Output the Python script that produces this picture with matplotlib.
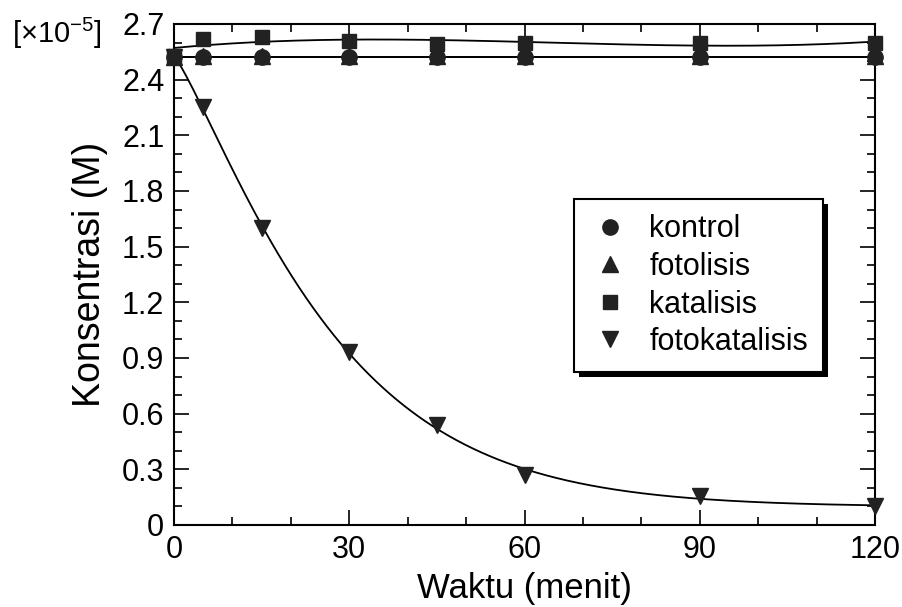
import numpy as np
import matplotlib
matplotlib.use("Agg")
import matplotlib.pyplot as plt
from matplotlib.patches import Rectangle
from matplotlib.transforms import IdentityTransform
from matplotlib.ticker import MultipleLocator, FuncFormatter

plt.rcParams['font.family'] = ['Liberation Sans', 'DejaVu Sans']
plt.rcParams['mathtext.fontset'] = 'custom'
plt.rcParams['mathtext.rm'] = 'Liberation Sans'
plt.rcParams['mathtext.it'] = 'Liberation Sans:italic'
plt.rcParams['mathtext.bf'] = 'Liberation Sans:bold'

# Sampling times (minutes) and concentrations (x 1e-5 M)
waktu = [0, 5, 15, 30, 45, 60, 90, 120]
kontrol = [2.52, 2.52, 2.52, 2.52, 2.52, 2.52, 2.52, 2.52]
fotolisis = [2.52, 2.525, 2.525, 2.525, 2.525, 2.525, 2.525, 2.525]
katalisis = [2.53, 2.62, 2.63, 2.61, 2.59, 2.60, 2.60, 2.60]
fotokatalisis = [2.52, 2.25, 1.60, 0.93, 0.54, 0.27, 0.155, 0.105]

series_labels = ['kontrol', 'fotolisis', 'katalisis', 'fotokatalisis']
markers = ['o', '^', 's', 'v']
x_ticks = [0, 30, 60, 90, 120]
y_ticks = [0, 0.3, 0.6, 0.9, 1.2, 1.5, 1.8, 2.1, 2.4, 2.7]

MARK = '#222222'


def decay_fit(t, c):
    """Least-squares fit of c = B + A*exp(-(t/tau)**p); returns a callable."""
    t = np.asarray(t, float)
    c = np.asarray(c, float)
    best = None
    for p in np.linspace(0.8, 2.0, 121):
        for tau in np.linspace(10, 60, 251):
            g = np.exp(-(t / tau) ** p)
            G = np.column_stack([g, np.ones_like(g)])
            coef, *_ = np.linalg.lstsq(G, c, rcond=None)
            err = np.sum((G @ coef - c) ** 2)
            if best is None or err < best[0]:
                best = (err, p, tau, coef)
    _, p, tau, (A, B) = best
    return lambda x: B + A * np.exp(-(np.asarray(x) / tau) ** p)


fig = plt.figure(figsize=(9.03, 6.07), dpi=100)
ax = fig.add_axes([0.1927, 0.1351, 0.969 - 0.1927, 0.9605 - 0.1351])

tt = np.linspace(0, 120, 500)
# Fitted trend lines
for vals in (kontrol, fotolisis):
    c = np.polyfit(waktu, vals, 0)
    ax.plot(tt, np.polyval(c, tt), color='black', lw=1.3, zorder=2)
ck = np.polyfit(waktu, katalisis, 3)
ax.plot(tt, np.polyval(ck, tt), color='black', lw=1.3, zorder=2)
fk = decay_fit(waktu, fotokatalisis)
ax.plot(tt, fk(tt), color='black', lw=1.3, zorder=2)

data = [kontrol, fotolisis, katalisis, fotokatalisis]
sizes = [11, 11.5, 10.5, 11.5]
for vals, mk, lab, ms in zip(data, markers, series_labels, sizes):
    ax.plot(waktu, vals, ls='none', marker=mk, ms=ms, color=MARK,
            mec=MARK, label=lab, zorder=3, clip_on=False)

ax.set_xlim(0, 120)
ax.set_ylim(0, 2.7)
ax.set_xticks(x_ticks)
ax.set_yticks(y_ticks)
ax.xaxis.set_minor_locator(MultipleLocator(10))
ax.yaxis.set_minor_locator(MultipleLocator(0.1))
ax.yaxis.set_major_formatter(FuncFormatter(lambda v, p: '0' if abs(v) < 1e-9 else f'{v:.1f}'))
ax.tick_params(which='both', direction='in', top=True, right=True,
               labelsize=22, width=1.2, colors='black')
ax.tick_params(which='major', length=11, pad=7)
ax.tick_params(which='minor', length=5.8)
for s in ax.spines.values():
    s.set_linewidth(1.5)

ax.set_xlabel('Waktu (menit)', fontsize=25, labelpad=5)
ax.set_ylabel('Konsentrasi (M)', fontsize=27, labelpad=10)

fig.text(12 / 903, 1 - 43 / 607, '[×10$^{-5}$]', fontsize=21,
         ha='left', va='baseline')

leg = ax.legend(loc='upper left', bbox_to_anchor=(0.5706, 0.6507),
                borderaxespad=0, fontsize=22, frameon=True, fancybox=False,
                framealpha=1, edgecolor='black', numpoints=1,
                handlelength=1.35, handletextpad=0.62, labelspacing=0.25,
                borderpad=0.5)
leg.get_frame().set_linewidth(1.5)
leg.set_zorder(5)

fig.canvas.draw()
bb = leg.get_window_extent()
shadow = Rectangle((bb.x0 + 5, bb.y0 - 5), bb.width, bb.height,
                   transform=IdentityTransform(), facecolor='black',
                   edgecolor='none', zorder=4.9, clip_on=False)
ax.add_artist(shadow)

fig.savefig('out.png', dpi=100)
